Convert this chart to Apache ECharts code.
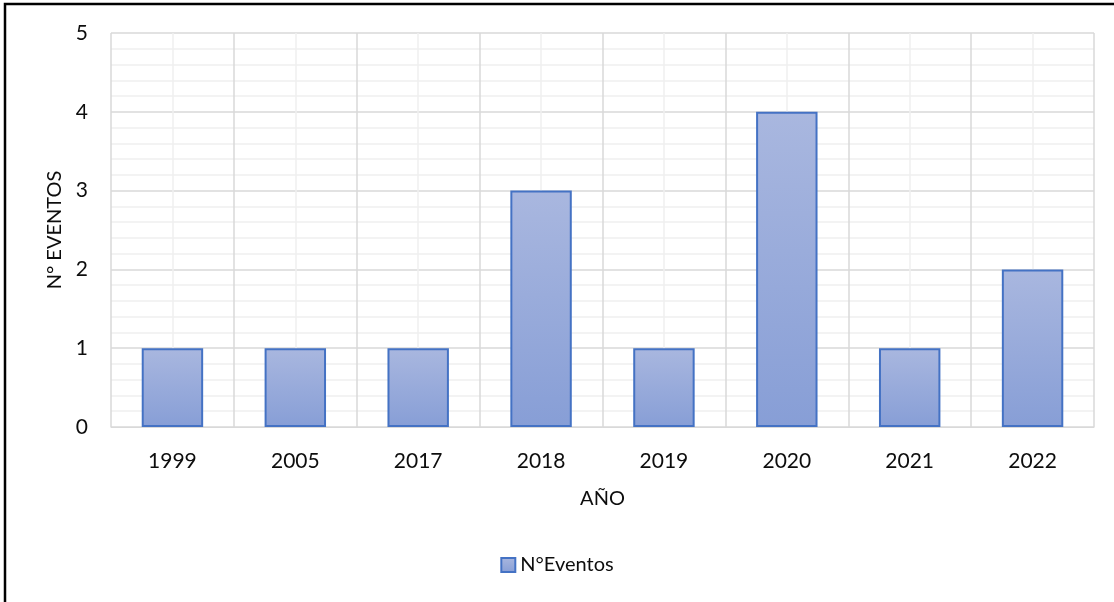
<!DOCTYPE html>
<html>
<head>
<meta charset="utf-8">
<script src="https://cdn.jsdelivr.net/npm/echarts@6/dist/echarts.min.js"></script>
<style>
  html, body { margin: 0; padding: 0; background: #fff; }
  #chart { width: 1114px; height: 602px; }
</style>
</head>
<body>
<div id="chart"></div>
<script>
// Events per year
const years = ['1999', '2005', '2017', '2018', '2019', '2020', '2021', '2022'];
const eventos = [1, 1, 1, 3, 1, 4, 1, 2];
const seriesName = 'N°Eventos';
const xAxisTitle = 'AÑO';
const yAxisTitle = 'N° EVENTOS';

const FONT = 'Lato, "Open Sans", sans-serif';
const TEXT = '#0d0d0d';

const chart = echarts.init(document.getElementById('chart'), null, { renderer: 'canvas' });

chart.setOption({
  animation: false,
  backgroundColor: '#ffffff',
  textStyle: { fontFamily: FONT },
  graphic: [{
    type: 'rect',
    shape: { x: 5, y: 4, width: 1200, height: 700 },
    style: { fill: 'none', stroke: '#000', lineWidth: 2.5 },
    silent: true,
    z: 100
  }],
  grid: { left: 111, right: 20, top: 33, bottom: 175, containLabel: false },
  legend: {
    bottom: 22,
    left: 'center',
    icon: 'rect',
    itemWidth: 14,
    itemHeight: 14,
    itemGap: 10,
    textStyle: { fontFamily: FONT, fontSize: 20, color: TEXT },
    data: [seriesName]
  },
  xAxis: [{
    type: 'category',
    data: years,
    name: xAxisTitle,
    nameLocation: 'middle',
    nameGap: 62,
    nameTextStyle: { fontFamily: FONT, fontSize: 20, color: TEXT },
    axisLine: { show: true, lineStyle: { color: '#d9d9d9', width: 1 } },
    axisTick: { show: false },
    axisLabel: { fontFamily: FONT, fontSize: 21, color: TEXT, margin: 24 },
    splitLine: { show: false }
  }, {
    // Helper axis: vertical gridlines at category edges (major) and centres (minor)
    type: 'value',
    min: 0,
    max: years.length,
    interval: 1,
    position: 'bottom',
    axisLine: { show: false },
    axisTick: { show: false },
    axisLabel: { show: false },
    splitLine: { show: true, lineStyle: { color: '#d9d9d9', width: 1.5 } },
    minorTick: { show: false, splitNumber: 2 },
    minorSplitLine: { show: true, lineStyle: { color: '#f0f0f0', width: 1.5 } }
  }],
  yAxis: {
    type: 'value',
    min: 0,
    max: 5,
    interval: 1,
    name: yAxisTitle,
    nameLocation: 'middle',
    nameGap: 42,
    nameRotate: 90,
    nameTextStyle: { fontFamily: FONT, fontSize: 20, color: TEXT },
    axisLine: { show: false },
    axisTick: { show: false },
    axisLabel: { fontFamily: FONT, fontSize: 21, color: TEXT, margin: 23 },
    splitLine: { show: true, lineStyle: { color: '#d9d9d9', width: 1.5 } },
    minorTick: { show: false, splitNumber: 5 },
    minorSplitLine: { show: true, lineStyle: { color: '#f0f0f0', width: 1.5 } }
  },
  series: [{
    name: seriesName,
    type: 'bar',
    xAxisIndex: 0,
    data: eventos,
    barCategoryGap: '50%',
    itemStyle: {
      color: new echarts.graphic.LinearGradient(0, 0, 0, 1, [
        { offset: 0, color: '#a9b7df' },
        { offset: 1, color: '#879ed6' }
      ]),
      borderColor: '#4472c4',
      borderWidth: 2
    }
  }]
});
</script>
</body>
</html>
